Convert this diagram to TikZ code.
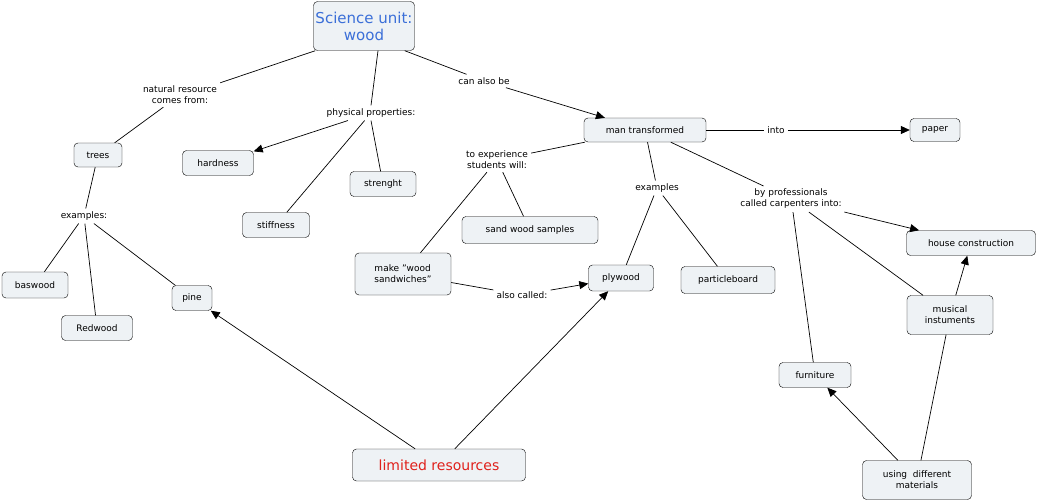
\documentclass[tikz,border=0pt]{standalone}
\usepackage{fontspec}
\setmainfont{DejaVu Sans}
\usetikzlibrary{arrows.meta}
\definecolor{boxfill}{HTML}{EEF2F5}
\definecolor{titleblue}{HTML}{3B6FD8}
\definecolor{limred}{HTML}{E0201B}
\begin{document}
\begin{tikzpicture}[x=1pt,y=-1pt,
  box/.style={draw=black,fill=boxfill,rounded corners=4pt,inner sep=2pt,font=\fontsize{9}{11}\selectfont,align=center},
  lab/.style={inner sep=3pt,font=\fontsize{9}{11}\selectfont,align=center},
  con/.style={draw=black,line width=0.7pt},
  arr/.style={con,-{Triangle[length=9pt,width=8pt]}}]
\useasboundingbox[fill=white] (0,0) rectangle (1039,503);
% concepts
\node[box,minimum width=100,minimum height=49,text=titleblue,font=\fontsize{15}{17}\selectfont] (sci) at (364,26) {Science unit:\\wood};
\node[box,minimum width=122,minimum height=24] (man) at (645,130) {man transformed};
\node[box,minimum width=50,minimum height=23] (paper) at (935,130) {paper};
\node[box,minimum width=48,minimum height=24] (trees) at (98,155) {trees};
\node[box,minimum width=71,minimum height=25] (hard) at (218,163) {hardness};
\node[box,minimum width=66,minimum height=25] (str) at (383,184) {strenght};
\node[box,minimum width=67,minimum height=25] (stiff) at (276,225) {stiffness};
\node[box,minimum width=136,minimum height=27] (sand) at (530,230) {sand wood samples};
\node[box,minimum width=96,minimum height=42,align=left] (make) at (403,274) {make "wood\\sandwiches"};
\node[box,minimum width=65,minimum height=26] (ply) at (621,278) {plywood};
\node[box,minimum width=94,minimum height=27] (part) at (728,280) {particleboard};
\node[box,minimum width=129,minimum height=25] (house) at (971,243) {house construction};
\node[box,minimum width=66,minimum height=26] (bas) at (35,285) {baswood};
\node[box,minimum width=40,minimum height=25] (pine) at (192,298) {pine};
\node[box,minimum width=71,minimum height=25] (red) at (97,328) {Redwood};
\node[box,minimum width=86,minimum height=39] (mus) at (950,315) {musical\\instuments};
\node[box,minimum width=72,minimum height=25] (furn) at (815,375) {furniture};
\node[box,minimum width=173,minimum height=32,text=limred,font=\fontsize{14}{16}\selectfont] (lim) at (439,465) {limited resources};
\node[box,minimum width=109,minimum height=39] (using) at (917,480) {using~ different\\materials};
% linking phrases
\node[lab] (l1) at (180,95) {natural resource\\comes from:};
\node[lab] (l2) at (371,113) {physical properties:};
\node[lab] (l3) at (484,81) {can also be};
\node[lab] (l4) at (776,130) {into};
\node[lab] (l5) at (497,160) {to experience\\students will:};
\node[lab] (l6) at (657,188) {examples};
\node[lab] (l7) at (791,199) {by professionals\\called carpenters into:};
\node[lab] (l8) at (84,216) {examples:};
\node[lab] (l9) at (522,295) {also called:};
% connectors
\draw[con] (sci.south west) ++(2,0) -- (l1.north east);
\draw[con] (l1) -- (trees);
\draw[con] (sci.south) ++(14,0) -- (l2.north);
\draw[arr] (l2) -- (hard);
\draw[con] (l2) -- (stiff);
\draw[con] (l2.south) -- (str);
\draw[con] (sci.south east) ++(-10,0) -- (l3);
\draw[arr] (l3) -- (man);
\draw[con] (man) -- (l4);
\draw[arr] (l4) -- (paper);
\draw[con] (man) -- (l5);
\draw[con] (l5) -- (make);
\draw[con] (l5) -- (sand);
\draw[con] (man) -- (l6);
\draw[con] (l6) -- (ply);
\draw[con] (l6) -- (part);
\draw[con] (man) -- (l7);
\draw[arr] (l7) -- (house);
\draw[con] (l7) -- (mus);
\draw[con] (l7.south) ++(2,0) -- (furn);
\draw[con] (trees) -- (l8);
\draw[con] (l8) -- (bas);
\draw[con] (l8) -- (red);
\draw[con] (l8) -- (pine);
\draw[con] (make) -- (l9);
\draw[arr] (l9) -- (ply);
\draw[arr] (lim) -- (pine);
\draw[arr] (lim) -- (ply);
\draw[arr] (using) -- (furn);
\draw[con] (using) -- (mus);
\draw[arr] (mus) -- (house);
\end{tikzpicture}
\end{document}
